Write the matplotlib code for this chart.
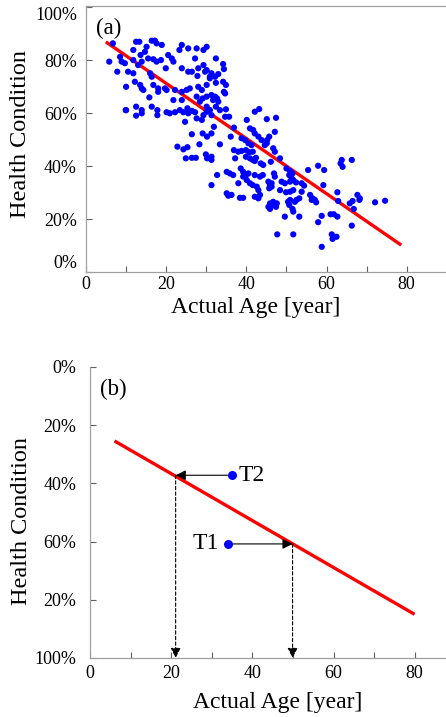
import matplotlib
matplotlib.use("Agg")
import matplotlib.pyplot as plt
from matplotlib.ticker import MultipleLocator, FixedLocator

plt.rcParams['font.family'] = ['Liberation Serif', 'DejaVu Serif']

# ---------------- data: panel (a) ----------------
ages = [
    5.8, 6.7, 7.8, 8.5, 8.9, 9.7, 10.0, 9.9, 10.5, 11.8,
    11.8, 11.8, 12.5, 13.3, 12.2, 13.5, 13.9, 14.3, 12.5, 12.5,
    13.9, 13.9, 13.9, 14.7, 15.1, 15.5, 16.0, 16.4, 16.4, 17.2,
    17.6, 18.9, 16.8, 17.6, 15.8, 16.8, 18.0, 18.0, 16.4, 17.8,
    17.8, 18.7, 19.7, 20.1, 19.9, 20.5, 21.4, 21.8, 21.8, 22.2,
    23.9, 23.9, 23.9, 25.5, 27.6, 30.1, 23.9, 25.5, 26.4, 28.0,
    29.3, 30.1, 25.1, 25.9, 28.0, 28.9, 30.1, 30.1, 28.4, 23.3,
    27.2, 29.3, 32.4, 34.2, 34.4, 29.7, 30.9, 31.3, 32.2, 33.0,
    30.9, 32.4, 34.9, 34.4, 34.7, 31.3, 32.2, 32.7, 33.0, 31.7,
    27.6, 29.1, 27.8, 30.1, 30.9, 34.2, 31.9, 34.9, 34.7, 35.7,
    32.4, 33.4, 31.3, 10.0, 20.1, 20.9, 22.2, 23.4, 24.3, 25.3,
    25.5, 26.4, 27.2, 24.7, 27.6, 28.9, 29.3, 30.1, 26.4, 29.1,
    30.2, 28.3, 22.8, 24.3, 25.3, 24.9, 26.4, 27.4, 29.9, 30.2,
    42.1, 43.2, 40.1, 45.1, 47.4, 36.9, 40.9, 41.7, 42.1, 31.3,
    43.0, 43.8, 36.1, 38.8, 39.7, 45.7, 45.2, 47.1, 33.4, 40.5,
    41.3, 44.6, 36.9, 38.0, 38.8, 39.9, 40.7, 41.6, 46.7, 47.1,
    37.2, 39.9, 40.9, 41.6, 42.1, 42.4, 31.3, 31.3, 48.4, 43.6,
    44.2, 50.0, 50.9, 51.5, 38.6, 39.2, 39.9, 39.2, 40.5, 35.1,
    35.9, 36.7, 32.7, 42.1, 43.4, 44.1, 46.9, 47.1, 38.0, 40.1,
    40.9, 41.6, 45.5, 45.9, 46.3, 45.7, 46.3, 48.8, 49.6, 50.9,
    51.7, 52.4, 31.3, 42.6, 43.0, 48.4, 49.9, 50.9, 51.7, 35.1,
    35.5, 36.3, 38.4, 39.2, 42.1, 43.0, 43.4, 45.9, 46.7, 47.6,
    50.4, 52.1, 45.5, 45.9, 46.7, 47.4, 50.9, 50.7, 51.5, 51.7,
    52.5, 53.2, 49.6, 53.2, 47.7, 51.7, 63.8, 63.5, 64.0, 66.3,
    55.4, 57.9, 59.4, 53.8, 54.4, 59.2, 53.8, 55.9, 56.5, 57.1,
    57.4, 56.3, 62.7, 62.9, 65.8, 66.5, 67.7, 68.2, 68.3, 72.1,
    74.6, 66.8, 58.8, 57.9, 61.0, 61.8, 62.7, 66.3, 61.3, 61.5,
    62.5, 58.8, 45.1, 46.1, 50.7, 51.3, 13.0, 13.6,
]
health = [
    79.4, 86.3, 75.6, 81.2, 79.4, 78.8, 69.9, 61.1, 75.6, 75.0,
    83.8, 80.0, 86.9, 86.9, 71.8, 70.6, 69.3, 68.7, 62.4, 59.0,
    61.1, 59.9, 79.4, 83.1, 85.0, 80.6, 75.0, 73.7, 87.3, 87.3,
    86.3, 85.7, 80.3, 79.4, 65.9, 70.6, 69.3, 68.0, 62.4, 61.1,
    59.2, 80.0, 69.3, 68.7, 76.9, 81.9, 80.6, 79.4, 64.9, 68.7,
    68.0, 64.9, 85.7, 84.4, 84.4, 85.0, 76.9, 75.6, 75.6, 76.9,
    78.1, 76.2, 68.7, 69.3, 69.9, 68.7, 70.6, 66.2, 64.3, 83.8,
    80.6, 83.8, 80.6, 78.5, 76.6, 75.6, 73.7, 75.0, 73.7, 74.7,
    73.1, 71.4, 70.6, 68.0, 67.4, 66.8, 66.2, 65.5, 64.3, 64.9,
    66.2, 65.5, 74.0, 62.4, 61.1, 71.8, 54.8, 61.4, 58.6, 58.6,
    62.4, 61.1, 59.2, 61.1, 60.3, 59.9, 60.3, 61.1, 60.3, 61.8,
    59.9, 60.8, 60.3, 56.7, 58.0, 57.4, 59.2, 60.5, 52.0, 52.3,
    51.1, 48.2, 47.3, 46.3, 47.1, 42.9, 43.1, 43.1, 44.4, 42.9,
    60.5, 61.5, 57.4, 57.7, 58.2, 54.5, 54.2, 53.6, 52.3, 52.3,
    51.1, 49.8, 51.1, 50.5, 49.8, 51.1, 49.8, 52.9, 48.2, 48.6,
    47.9, 47.9, 46.0, 45.4, 45.7, 46.0, 45.2, 45.4, 46.7, 45.4,
    42.9, 43.5, 42.9, 42.3, 41.9, 43.1, 43.5, 42.3, 42.9, 41.0,
    40.4, 39.1, 38.1, 37.2, 39.1, 37.8, 36.6, 36.0, 37.2, 37.8,
    37.2, 36.6, 36.6, 36.6, 36.0, 36.6, 37.2, 36.0, 33.5, 34.7,
    33.5, 32.8, 34.1, 32.8, 33.5, 31.6, 32.2, 34.1, 33.5, 34.1,
    34.7, 33.8, 32.8, 32.2, 30.9, 30.9, 30.1, 30.3, 30.9, 29.7,
    28.8, 29.1, 28.0, 28.0, 28.4, 27.8, 29.1, 25.9, 26.5, 25.9,
    26.5, 26.5, 24.6, 23.8, 25.3, 24.6, 27.2, 25.3, 23.8, 22.8,
    27.2, 27.8, 20.9, 20.9, 14.2, 14.2, 42.3, 41.0, 39.7, 42.3,
    38.5, 40.1, 38.5, 33.5, 32.6, 32.8, 30.3, 29.1, 27.8, 27.2,
    26.3, 27.2, 30.1, 26.8, 25.9, 26.8, 29.1, 27.2, 27.8, 26.3,
    26.9, 23.8, 21.2, 18.8, 21.8, 21.8, 20.9, 17.5, 14.2, 12.5,
    13.3, 9.5, 48.6, 41.6, 36.6, 35.4, 78.1, 81.9,
]
fit_a_x = [5.3, 78.3]
fit_a_y = [86.5, 10.5]

# ---------------- data: panel (b) ----------------
fit_b_x = [6.4, 79.6]
fit_b_y = [25.7, 84.7]
t_labels = ['T1', 'T2']
t_age = [34.1, 34.9]
t_health = [60.8, 37.2]
t_equiv_age = [49.9, 21.1]

yticks_a = [0, 20, 40, 60, 80, 100]
ylabels_a = ['0%', '20%', '40%', '60%', '80%', '100%']
yticks_b = [0, 20, 40, 60, 80, 100]
ylabels_b = ['0%', '20%', '40%', '60%', '20%', '100%']
xticks = [0, 20, 40, 60, 80]

W, H = 446, 717
fig = plt.figure(figsize=(W / 100, H / 100), dpi=100)

spine_col = '#a0a0a0'
tick_col = '#606060'
BLUE = '#0000ff'
RED = '#ff0000'


def style(ax):
    for s in ['left', 'bottom', 'top']:
        ax.spines[s].set_color(spine_col)
        ax.spines[s].set_linewidth(0.9)
    ax.spines['right'].set_visible(False)
    ax.xaxis.set_major_locator(FixedLocator(xticks))
    ax.xaxis.set_minor_locator(MultipleLocator(10))
    ax.tick_params(axis='both', which='both', direction='in', color=tick_col,
                   width=0.8, length=4.5, labelsize=13, labelcolor='black')
    ax.tick_params(axis='y', which='both', right=False)
    ax.tick_params(axis='x', which='both', top=False)


# ---------------- panel (a) ----------------
ax1 = fig.add_axes([86 / W, 1 - 272 / H, (W - 86) / W, (272 - 6) / H])
ax1.scatter(ages, health, s=20, color=BLUE, edgecolors='none', zorder=3)
ax1.plot(fit_a_x, fit_a_y, color=RED, lw=2.4, zorder=2)
ax1.set_xlim(0, 89.8)
ax1.set_ylim(0, 100.4)
style(ax1)
ax1.set_yticks(yticks_a)
ax1.set_yticklabels(ylabels_a)
ax1.tick_params(axis='y', pad=6.5)
ax1.tick_params(axis='x', pad=3)
ylab = ax1.get_yticklabels()
ylab[0].set_va('bottom')
ylab[-1].set_va('top')
ax1.set_xlabel('Actual Age [year]', fontsize=17)
ax1.xaxis.set_label_coords(0.472, -0.094)
ax1.xaxis.label.set_va('top')
ax1.set_ylabel('Health Condition', fontsize=17.5)
ax1.yaxis.set_label_coords(-0.153, 0.52)
ax1.text(0.028, 0.955, '(a)', transform=ax1.transAxes, fontsize=16.5,
         ha='left', va='top')

# ---------------- panel (b) ----------------
ax2 = fig.add_axes([90 / W, 1 - 658 / H, (W - 90) / W, (658 - 367) / H])
ax2.plot(fit_b_x, fit_b_y, color=RED, lw=2.4, zorder=2)
ax2.set_xlim(0, 87.7)
ax2.set_ylim(100, 0)
style(ax2)
ax2.spines['top'].set_visible(False)
ax2.set_yticks(yticks_b)
ax2.set_yticklabels(ylabels_b)
ax2.tick_params(axis='y', pad=10)
ax2.tick_params(axis='x', pad=5)
ax2.set_xlabel('Actual Age [year]', fontsize=17)
ax2.xaxis.set_label_coords(0.528, -0.117)
ax2.xaxis.label.set_va('top')
ax2.set_ylabel('Health Condition', fontsize=17.5)
ax2.yaxis.set_label_coords(-0.163, 0.47)
ax2.text(0.028, 0.96, '(b)', transform=ax2.transAxes, fontsize=16.5,
         ha='left', va='top')

for lab, a, h, e in zip(t_labels, t_age, t_health, t_equiv_age):
    # horizontal arrow from the measured point to the fitted line
    ax2.annotate('', xy=(e, h), xytext=(a, h),
                 arrowprops=dict(arrowstyle='-|>', color='black', lw=0.8,
                                 mutation_scale=15, shrinkA=3, shrinkB=0),
                 zorder=4)
    # dashed drop to the age axis
    ax2.annotate('', xy=(e, 100), xytext=(e, h),
                 arrowprops=dict(arrowstyle='-|>', color='black', lw=0.8,
                                 linestyle=(0, (3, 2)), mutation_scale=15,
                                 shrinkA=0, shrinkB=0),
                 zorder=4)
    ax2.plot([a], [h], 'o', color=BLUE, ms=6.5, mec='none', zorder=5)
    if a < e:
        ax2.text(a - 2.4, h, lab, fontsize=17, ha='right', va='center')
    else:
        ax2.text(a + 1.6, h, lab, fontsize=17, ha='left', va='center')

fig.savefig('out.png', dpi=100)
